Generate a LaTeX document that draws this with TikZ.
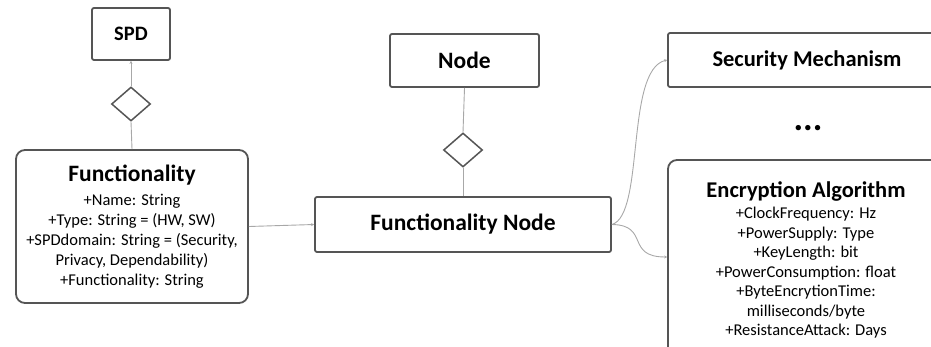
\documentclass[tikz,border=0pt]{standalone}
\usepackage{fontspec}
\setmainfont{Carlito}
\usetikzlibrary{shapes.geometric,arrows.meta}
\definecolor{boxgray}{HTML}{555555}
\definecolor{linegray}{HTML}{A8A8A8}
\newcommand{\clstitle}[2]{{\fontsize{#1}{28}\selectfont\bfseries #2}}
\begin{document}
\begin{tikzpicture}[x=1pt,y=-1pt,
  cls/.style={draw=boxgray,line width=1.8pt,rounded corners=2pt,fill=white,inner sep=0pt,align=center,font=\fontsize{23.5}{28}\selectfont\bfseries},
  attrbox/.style={cls,rounded corners=9pt,font=\fontsize{16.5}{20}\selectfont},
  agg/.style={diamond,draw=boxgray,line width=1.5pt,fill=white,inner sep=0pt,minimum width=39pt,minimum height=34pt},
  link/.style={draw=linegray,line width=0.9pt},
  tip/.style={link,-{Stealth[length=3pt,width=3pt]}}]
\useasboundingbox (0,0) rectangle (931,347);
\clip (0,0) rectangle (931,347);

\node[cls,font=\fontsize{20.5}{24}\selectfont\bfseries,minimum width=78pt,minimum height=52pt] (spd) at (131,34) {SPD};
\node[agg] (spdagg) at (131,104) {};
\node[attrbox,minimum width=232pt,minimum height=153pt] (func) at (132,226.5)
  {\clstitle{23.5}{Functionality}\\[4pt]
   +Name: String\\
   +Type: String = (HW, SW)\\
   +SPDdomain: String = (Security,\\
   Privacy, Dependability)\\
   +Functionality: String};

\node[cls,minimum width=149pt,minimum height=53pt] (node) at (464.5,60.5) {Node};
\node[agg] (nodeagg) at (463,150) {};
\node[cls,minimum width=296pt,minimum height=55pt] (fnode) at (463,224.5) {Functionality Node};

\node[cls,font=\fontsize{22.5}{28}\selectfont\bfseries,minimum width=278pt,minimum height=54pt] (sec) at (807,60) {Security Mechanism};
\node[font=\fontsize{36}{36}\selectfont\bfseries,anchor=base] (dots) at (808,131) {...};
\node[attrbox,font=\fontsize{16.5}{19.5}\selectfont,minimum width=276pt,minimum height=200pt] (enc) at (806,260)
  {\clstitle{22.5}{Encryption Algorithm}\\[2pt]
   +ClockFrequency: Hz\\
   +PowerSupply: Type\\
   +KeyLength: bit\\
   +PowerConsumption: float\\
   +ByteEncrytionTime:\\
   milliseconds/byte\\
   +ResistanceAttack: Days};

\draw[tip] (spdagg.north) -- (spd.south);
\draw[link] (func.north) -- (spdagg.south);
\draw[link] (node.south) -- (nodeagg.north);
\draw[link] (fnode.north) -- (nodeagg.south);
\draw[tip] (func.east) -- (fnode.west);
\draw[tip] (fnode.east) .. controls (645,215) and (625,70) .. (sec.west);
\draw[tip] (fnode.east) .. controls (650,225) and (625,257) .. (enc.west |- 0,257);
\end{tikzpicture}
\end{document}
